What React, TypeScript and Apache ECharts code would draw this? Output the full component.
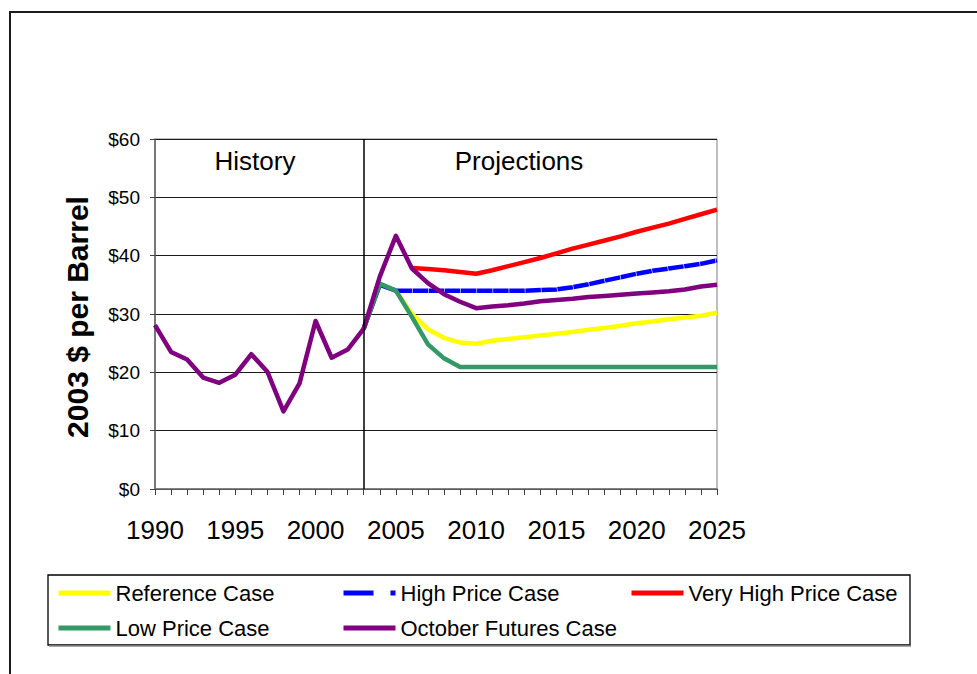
import React, { useEffect, useRef } from "react";
import * as echarts from "echarts";

const FONT = "'Liberation Sans', Arial, Helvetica, sans-serif";

// History (1990-2002), shown as part of the October Futures line
const historyYears = [1990, 1991, 1992, 1993, 1994, 1995, 1996, 1997, 1998, 1999, 2000, 2001, 2002];
const historyPrices = [28.1, 23.5, 22.2, 19.1, 18.2, 19.6, 23.1, 20.1, 13.3, 18.1, 28.8, 22.5, 23.9];

// Projections (2003-2025)
const projectionYears = [
  2003, 2004, 2005, 2006, 2007, 2008, 2009, 2010, 2011, 2012, 2013, 2014,
  2015, 2016, 2017, 2018, 2019, 2020, 2021, 2022, 2023, 2024, 2025,
];
const referenceCase = [
  27.5, 35.0, 34.0, 30.0, 27.4, 25.9, 25.1, 24.9, 25.4, 25.7, 26.0, 26.3,
  26.6, 26.9, 27.3, 27.6, 28.0, 28.4, 28.7, 29.1, 29.4, 29.7, 30.2,
];
const highPriceCase = [
  27.5, 35.0, 34.0, 34.0, 34.0, 34.0, 34.0, 34.0, 34.0, 34.0, 34.0, 34.1,
  34.2, 34.6, 35.1, 35.7, 36.3, 36.9, 37.4, 37.8, 38.2, 38.6, 39.2,
];
const veryHighPriceCase = [
  null, null, null, 37.9, 37.7, 37.5, 37.2, 36.9, 37.5, 38.2, 38.9, 39.6,
  40.4, 41.2, 41.9, 42.6, 43.3, 44.1, 44.8, 45.5, 46.3, 47.1, 47.9,
];
const lowPriceCase = [
  27.5, 35.2, 34.0, 29.5, 24.8, 22.4, 20.9, 20.9, 20.9, 20.9, 20.9, 20.9,
  20.9, 20.9, 20.9, 20.9, 20.9, 20.9, 20.9, 20.9, 20.9, 20.9, 20.9,
];
const octoberFuturesCase = [
  27.5, 36.4, 43.4, 37.8, 35.3, 33.4, 32.1, 31.0, 31.3, 31.5, 31.8, 32.2,
  32.4, 32.6, 32.9, 33.1, 33.3, 33.5, 33.7, 33.9, 34.2, 34.7, 35.0,
];

const xTickLabelYears = [1990, 1995, 2000, 2005, 2010, 2015, 2020, 2025];
const yTickLabels = ["$0", "$10", "$20", "$30", "$40", "$50", "$60"];
const projectionStartYear = 2003;

const seriesNames = [
  "Reference Case",
  "High Price Case",
  "Very High Price Case",
  "Low Price Case",
  "October Futures Case",
];
const seriesColors = ["#FFFF00", "#0000FF", "#FF0000", "#339966", "#800080"];

function pairs(years: number[], values: (number | null)[]) {
  const out: [number, number][] = [];
  years.forEach((y, i) => {
    const v = values[i];
    if (v !== null && v !== undefined) out.push([y, v]);
  });
  return out;
}

export default function App() {
  const ref = useRef<HTMLDivElement>(null);

  useEffect(() => {
    if (!ref.current) return;
    const chart = echarts.init(ref.current, undefined, { renderer: "svg" });

    const seriesData = [
      pairs(projectionYears, referenceCase),
      pairs(projectionYears, highPriceCase),
      pairs(projectionYears, veryHighPriceCase),
      pairs(projectionYears, lowPriceCase),
      pairs(historyYears, historyPrices).concat(pairs(projectionYears, octoberFuturesCase)),
    ];

    const legendLayout = [
      { left: 56, top: 582 },
      { left: 341, top: 582 },
      { left: 629, top: 582 },
      { left: 56, top: 617 },
      { left: 341, top: 617 },
    ];

    const option: any = {
      animation: false,
      textStyle: { fontFamily: FONT },
      grid: {
        left: 155,
        top: 139,
        width: 562,
        height: 350,
        show: true,
        borderColor: "#808080",
        borderWidth: 1,
        backgroundColor: "transparent",
      },
      xAxis: {
        type: "value",
        min: 1990,
        max: 2025,
        interval: 1,
        axisLine: { show: true, lineStyle: { color: "#707070", width: 1.5 } },
        axisTick: { show: true, length: 6, lineStyle: { color: "#404040", width: 1 } },
        axisLabel: {
          formatter: (v: number) => (xTickLabelYears.includes(v) ? String(v) : ""),
          fontSize: 26,
          color: "#000",
          margin: 28,
          fontFamily: FONT,
        },
        splitLine: { show: false },
      },
      yAxis: {
        type: "value",
        min: 0,
        max: 60,
        interval: 10,
        name: "2003 $ per Barrel",
        nameLocation: "middle",
        nameGap: 63,
        nameTextStyle: {
          fontSize: 30,
          fontWeight: "bold",
          color: "#000",
          fontFamily: FONT,
          padding: [0, 6, 0, 0],
        },
        axisLine: { show: true, lineStyle: { color: "#606060", width: 1.5 } },
        axisTick: { show: true, length: 5, lineStyle: { color: "#404040", width: 1 } },
        axisLabel: {
          formatter: (v: number) => yTickLabels[Math.round(v / 10)] ?? "",
          fontSize: 19,
          color: "#000",
          margin: 15,
          fontFamily: FONT,
        },
        splitLine: { show: true, lineStyle: { color: "#1a1a1a", width: 1 } },
      },
      legend: legendLayout.map((p, i) => ({
        data: [
          {
            name: seriesNames[i],
            lineStyle: i === 1 ? { width: 5, type: [30, 17] } : { width: 5 },
          },
        ],
        left: p.left,
        top: p.top,
        padding: 0,
        itemWidth: 52,
        itemHeight: 5,
        itemGap: 0,
        selectedMode: false,
        textStyle: { fontSize: 22, color: "#000", fontFamily: FONT },
      })),
      series: seriesData.map((d, i) => ({
        name: seriesNames[i],
        type: "line",
        data: d,
        symbol: "none",
        showSymbol: false,
        lineStyle: {
          color: seriesColors[i],
          width: 4.5,
          join: "round",
          type: i === 1 ? [15.5, 0.6] : "solid",
        },
        itemStyle: { color: seriesColors[i] },
        ...(i === 4
          ? {
              markLine: {
                silent: true,
                symbol: "none",
                label: { show: false },
                lineStyle: { color: "#000", width: 1.5, type: "solid" },
                data: [{ xAxis: projectionStartYear }],
              },
            }
          : {}),
      })),
      graphic: [
        {
          type: "rect",
          z: -10,
          shape: { x: 10, y: 12, width: 1000, height: 700 },
          style: { fill: "none", stroke: "#1a1a1a", lineWidth: 2 },
        },
        {
          type: "rect",
          shape: { x: 48, y: 575, width: 862, height: 70 },
          style: { fill: "none", stroke: "#000", lineWidth: 1.3 },
        },
        {
          type: "line",
          shape: { x1: 49, y1: 646, x2: 911, y2: 646 },
          style: { stroke: "#888", lineWidth: 1.5 },
        },
        {
          type: "text",
          x: 255,
          y: 161,
          style: {
            text: "History",
            fontSize: 26,
            fontFamily: FONT,
            fill: "#000",
            align: "center",
            verticalAlign: "middle",
          },
        },
        {
          type: "text",
          x: 519,
          y: 161,
          style: {
            text: "Projections",
            fontSize: 26,
            fontFamily: FONT,
            fill: "#000",
            align: "center",
            verticalAlign: "middle",
          },
        },
      ],
    };

    chart.setOption(option);
    return () => chart.dispose();
  }, []);

  return (
    <div
      ref={ref}
      style={{ position: "absolute", left: 0, top: 0, width: 977, height: 674, background: "#fff" }}
    />
  );
}
